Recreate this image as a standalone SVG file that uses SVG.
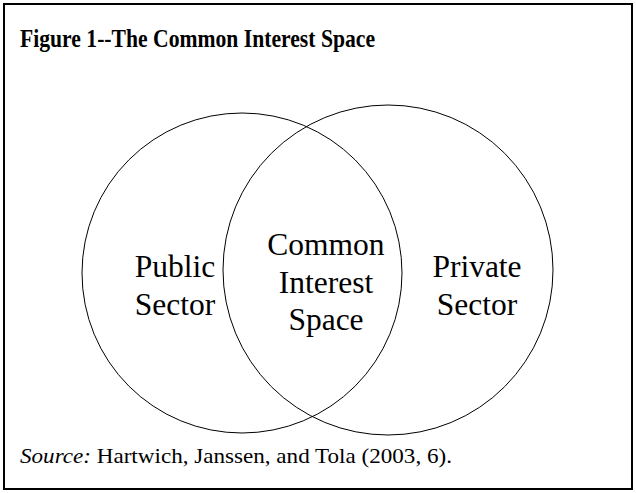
<svg xmlns="http://www.w3.org/2000/svg" width="636" height="493" viewBox="0 0 636 493">
  <style>
    .ring { fill: none; stroke: #000; stroke-width: 1; }
    .lbl { font-family: "Liberation Serif", "Times New Roman", serif; font-size: 31.5px; fill: #000; text-anchor: middle; }
    .title { font-family: "Liberation Serif", "Times New Roman", serif; font-size: 26px; font-weight: bold; fill: #000; }
    .note { font-family: "Liberation Serif", "Times New Roman", serif; font-size: 21px; fill: #000; }
  </style>
  <!-- page and frame -->
  <rect x="0" y="0" width="636" height="493" fill="#fff"/>
  <rect x="4" y="4" width="628" height="485" fill="none" stroke="#000" stroke-width="2"/>
  <text class="title" x="20" y="47" textLength="355" lengthAdjust="spacingAndGlyphs">Figure 1--The Common Interest Space</text>
  <g id="public-sector">
    <circle class="ring" cx="242" cy="273" r="160"/>
    <text class="lbl" x="175" y="277">Public</text>
    <text class="lbl" x="175" y="315">Sector</text>
  </g>
  <g id="private-sector">
    <circle class="ring" cx="388" cy="270" r="165"/>
    <text class="lbl" x="477" y="277">Private</text>
    <text class="lbl" x="477" y="315">Sector</text>
  </g>
  <!-- overlap of the two circles -->
  <g id="common-interest-space">
    <text class="lbl" x="326" y="255">Common</text>
    <text class="lbl" x="326" y="293">Interest</text>
    <text class="lbl" x="326" y="330">Space</text>
  </g>
  <g id="connectors"></g>
  <text class="note" x="20" y="463" textLength="432" lengthAdjust="spacingAndGlyphs"><tspan font-style="italic">Source:</tspan> Hartwich, Janssen, and Tola (2003, 6).</text>
</svg>
